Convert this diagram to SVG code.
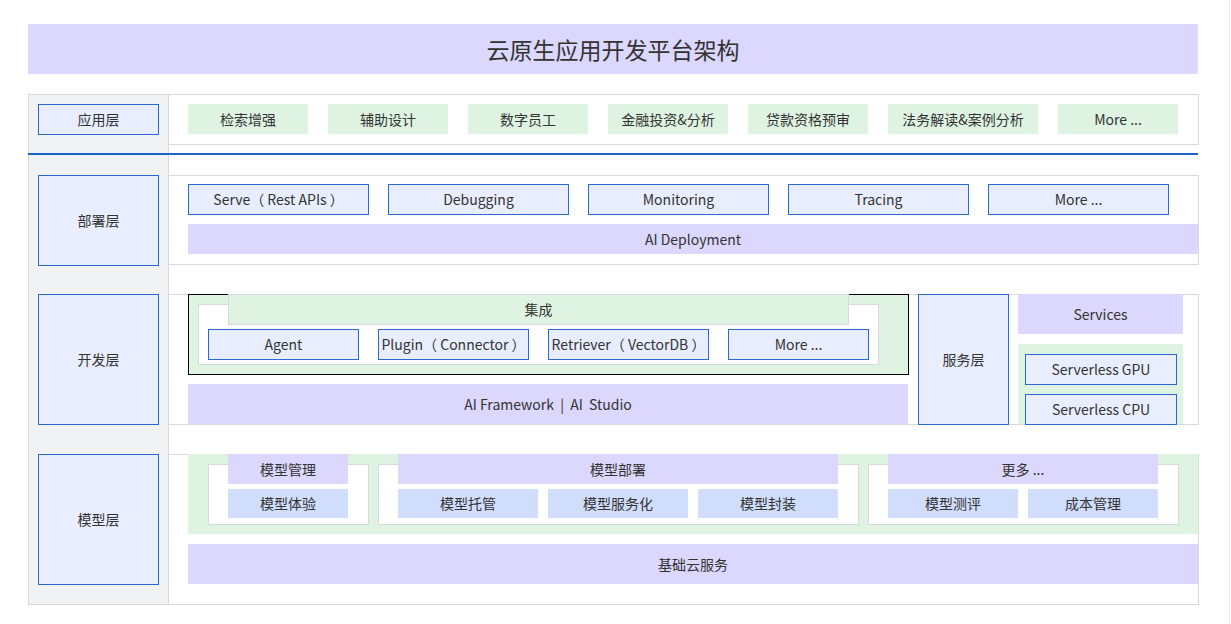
<svg xmlns="http://www.w3.org/2000/svg" width="1231" height="624" viewBox="0 0 1231 624">
<style>
.lav{fill:#dcd7fd}
.grn{fill:#dff3e3}
.blu{fill:#e8eefd;stroke:#2a68d2;stroke-width:1}
.cell{fill:#d0ddfc}
.frame{fill:#fff;stroke:#d9d9d9;stroke-width:1}
text{font-family:"Noto Sans CJK SC","Liberation Sans",sans-serif;font-size:14px;fill:#333;text-anchor:middle;dominant-baseline:central}
</style>
<rect x="0" y="0" width="1231" height="624" fill="#fff"/>
<line x1="1229.5" y1="0" x2="1229.5" y2="624" stroke="#e8e8e8"/>
<g id="title">
<rect class="lav" x="28" y="24" width="1170" height="50"/>
<text x="613" y="48.5" style="font-size:23px">云原生应用开发平台架构</text>
</g>
<g id="frames">
<rect x="28.5" y="94.5" width="140" height="510" fill="#f1f2f4" stroke="#d9d9d9"/>
<rect class="frame" x="168.5" y="94.5" width="1030" height="50"/>
<rect class="frame" x="168.5" y="175.5" width="1030" height="89"/>
<rect class="frame" x="168.5" y="294.5" width="1030" height="130"/>
<rect class="frame" x="168.5" y="454.5" width="1030" height="150"/>
</g>
<g id="connectors">
<line x1="28" y1="154" x2="1198" y2="154" stroke="#1e63c7" stroke-width="2"/>
</g>
<g id="label-app"><rect class="blu" x="38.5" y="104.5" width="120" height="30"/><text x="98.5" y="118.5">应用层</text></g>
<g id="label-deploy"><rect class="blu" x="38.5" y="175.5" width="120" height="90"/><text x="98.5" y="219.5">部署层</text></g>
<g id="label-dev"><rect class="blu" x="38.5" y="294.5" width="120" height="130"/><text x="98.5" y="358.5">开发层</text></g>
<g id="label-model"><rect class="blu" x="38.5" y="454.5" width="120" height="130"/><text x="98.5" y="518.5">模型层</text></g>

<g id="app-1"><rect class="grn" x="188" y="104" width="120" height="30"/><text x="248" y="118.5">检索增强</text></g>
<g id="app-2"><rect class="grn" x="328" y="104" width="120" height="30"/><text x="388" y="118.5">辅助设计</text></g>
<g id="app-3"><rect class="grn" x="468" y="104" width="120" height="30"/><text x="528" y="118.5">数字员工</text></g>
<g id="app-4"><rect class="grn" x="608" y="104" width="120" height="30"/><text x="668" y="118.5">金融投资&amp;分析</text></g>
<g id="app-5"><rect class="grn" x="748" y="104" width="120" height="30"/><text x="808" y="118.5">贷款资格预审</text></g>
<g id="app-6"><rect class="grn" x="888" y="104" width="150" height="30"/><text x="963" y="118.5">法务解读&amp;案例分析</text></g>
<g id="app-7"><rect class="grn" x="1058" y="104" width="120" height="30"/><text x="1118" y="118.5">More ...</text></g>

<g id="dep-serve"><rect class="blu" x="188.5" y="184.5" width="180" height="30"/><text x="278.5" y="198.5" style="white-space:pre">Serve（ Rest APIs ）</text></g>
<g id="dep-debug"><rect class="blu" x="388.5" y="184.5" width="180" height="30"/><text x="478.5" y="198.5">Debugging</text></g>
<g id="dep-monitor"><rect class="blu" x="588.5" y="184.5" width="180" height="30"/><text x="678.5" y="198.5">Monitoring</text></g>
<g id="dep-trace"><rect class="blu" x="788.5" y="184.5" width="180" height="30"/><text x="878.5" y="198.5">Tracing</text></g>
<g id="dep-more"><rect class="blu" x="988.5" y="184.5" width="180" height="30"/><text x="1078.5" y="198.5">More ...</text></g>
<g id="dep-ai"><rect class="lav" x="188" y="224" width="1010" height="30"/><text x="693" y="238.5">AI Deployment</text></g>

<g id="integration">
<rect class="grn" x="188.5" y="294.5" width="720" height="80" stroke="#000"/>
<rect class="frame" x="198.5" y="304.5" width="680" height="60"/>
<rect class="grn" x="228.5" y="294.5" width="620" height="30" stroke="#d9d9d9"/>
<text x="538.5" y="308.5">集成</text>
</g>
<g id="dev-agent"><rect class="blu" x="208.5" y="329.5" width="150" height="30"/><text x="283.5" y="343.5">Agent</text></g>
<g id="dev-plugin"><rect class="blu" x="378.5" y="329.5" width="150" height="30"/><text x="453.5" y="343.5" style="white-space:pre">Plugin（ Connector ）</text></g>
<g id="dev-retriever"><rect class="blu" x="548.5" y="329.5" width="160" height="30"/><text x="628.5" y="343.5" style="white-space:pre">Retriever（ VectorDB ）</text></g>
<g id="dev-more"><rect class="blu" x="728.5" y="329.5" width="140" height="30"/><text x="798.5" y="343.5">More ...</text></g>
<g id="dev-framework"><rect class="lav" x="188" y="384" width="720" height="40"/><text x="548" y="403.5" style="white-space:pre">AI Framework  |  AI  Studio</text></g>

<g id="label-service"><rect class="blu" x="918.5" y="294.5" width="90" height="130"/><text x="963.5" y="358.5">服务层</text></g>
<g id="services"><rect class="lav" x="1018" y="294" width="165" height="40"/><text x="1100.5" y="313.5">Services</text></g>
<g id="serverless">
<rect class="grn" x="1018" y="344" width="165" height="80"/>
</g>
<g id="srv-gpu"><rect class="blu" x="1025.5" y="354.5" width="151" height="30"/><text x="1101" y="368.5">Serverless GPU</text></g>
<g id="srv-cpu"><rect class="blu" x="1025.5" y="394.5" width="151" height="30"/><text x="1101" y="408.5">Serverless CPU</text></g>

<g id="model-panel">
<rect class="grn" x="188" y="454" width="1010" height="80"/>
<rect class="frame" x="208.5" y="464.5" width="160" height="60"/>
<rect class="frame" x="378.5" y="464.5" width="480" height="60"/>
<rect class="frame" x="868.5" y="464.5" width="310" height="60"/>
</g>
<g id="m-manage"><rect class="lav" x="228" y="454" width="120" height="30"/><text x="288" y="468.5">模型管理</text></g>
<g id="m-deploy"><rect class="lav" x="398" y="454" width="440" height="30"/><text x="618" y="468.5">模型部署</text></g>
<g id="m-more"><rect class="lav" x="888" y="454" width="270" height="30"/><text x="1023" y="468.5">更多 ...</text></g>
<g id="m-exp"><rect class="cell" x="228" y="489" width="120" height="29"/><text x="288" y="502.5">模型体验</text></g>
<g id="m-host"><rect class="cell" x="398" y="489" width="140" height="29"/><text x="468" y="502.5">模型托管</text></g>
<g id="m-svc"><rect class="cell" x="548" y="489" width="140" height="29"/><text x="618" y="502.5">模型服务化</text></g>
<g id="m-pack"><rect class="cell" x="698" y="489" width="140" height="29"/><text x="768" y="502.5">模型封装</text></g>
<g id="m-eval"><rect class="cell" x="888" y="489" width="130" height="29"/><text x="953" y="502.5">模型测评</text></g>
<g id="m-cost"><rect class="cell" x="1028" y="489" width="130" height="29"/><text x="1093" y="502.5">成本管理</text></g>
<g id="m-cloud"><rect class="lav" x="188" y="544" width="1010" height="40"/><text x="693" y="563.5">基础云服务</text></g>
</svg>
